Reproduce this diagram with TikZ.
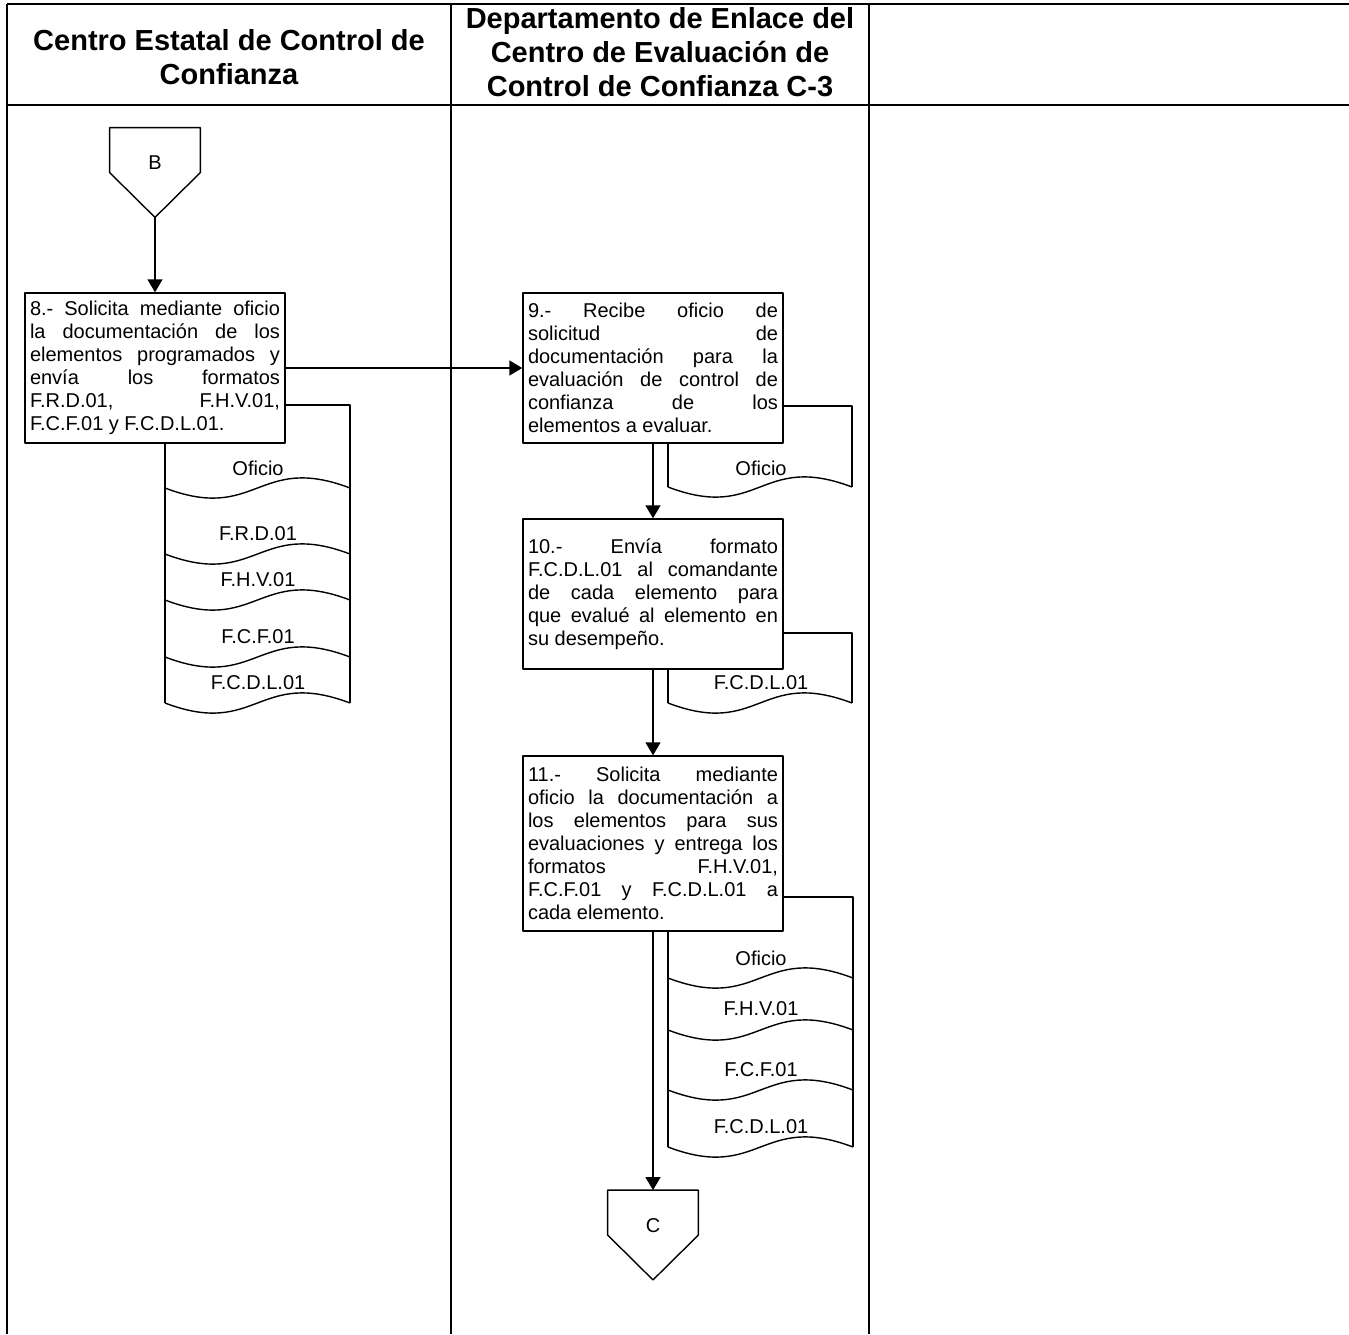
\documentclass[tikz,border=0pt]{standalone}
\usepackage{fontspec}
\setmainfont{Liberation Sans}
\usetikzlibrary{arrows.meta}
\newcommand{\onda}[3]{\draw[doc] (#1,#3) .. controls +(92,35) and +(-92,-35) .. (#2,#3);}
\begin{document}
\begin{tikzpicture}[x=0.5pt,y=-0.5pt,line join=round,>={Triangle[length=6.5pt,width=7.5pt]},
  font=\fontsize{10}{11.5}\selectfont\frenchspacing,
  marco/.style={line width=1.3pt},
  doc/.style={line width=0.7pt},
  paso/.style={draw,line width=0.7pt,text width=125pt,minimum width=130pt,minimum height=75pt,inner sep=2.5pt,align=justify},
  conector/.style={minimum width=45pt,minimum height=44.5pt,inner sep=0pt,text height=7.2pt,text depth=10pt},
  cabecera/.style={font=\bfseries\fontsize{14.5}{17}\selectfont,align=center}]
\useasboundingbox (0,0) rectangle (1349,1334);
% tabla
\draw[marco] (7,4) -- (1349,4);
\draw[marco] (7,105) -- (1349,105);
\draw[marco] (7,4) -- (7,1334);
\draw[marco] (451,4) -- (451,1334);
\draw[marco] (869,4) -- (869,1334);
\node[cabecera] (cab1) at (229,57) {Centro Estatal de Control de\\Confianza};
\node[cabecera] (cab2) at (660,52) {Departamento de Enlace del\\Centro de Evaluación de\\Control de Confianza C-3};
% conector B
\node[conector] (conB) at (155,172.5) {B};
\draw[doc] (conB.north west) -- (conB.north east) -- (conB.east) -- (conB.south) -- (conB.west) -- cycle;
% pasos
\node[paso] (s8) at (155,368) {8.- Solicita mediante oficio\linebreak la documentación de los\linebreak elementos programados y\linebreak envía los formatos\linebreak F.R.D.01, F.H.V.01,\linebreak F.C.F.01 y F.C.D.L.01.};
\node[paso] (s9) at (653,368) {9.- Recibe oficio de\linebreak solicitud de\linebreak documentación para la\linebreak evaluación de control de\linebreak confianza de los\linebreak elementos a evaluar.};
\node[paso] (s10) at (653,594) {10.- Envía formato\linebreak F.C.D.L.01 al comandante\linebreak de cada elemento para\linebreak que evalué al elemento en\linebreak su desempeño.};
\node[paso,minimum height=87.5pt] (s11) at (653,843.5) {11.- Solicita mediante\linebreak oficio la documentación a\linebreak los elementos para sus\linebreak evaluaciones y entrega los\linebreak formatos F.H.V.01,\linebreak F.C.F.01 y F.C.D.L.01 a\linebreak cada elemento.};
% conector C
\node[conector] (conC) at (653,1235) {C};
\draw[doc] (conC.north west) -- (conC.north east) -- (conC.east) -- (conC.south) -- (conC.west) -- cycle;
% documentos del paso 8
\draw[doc] (285,405) -- (350,405) -- (350,703);
\draw[doc] (165,443) -- (165,703);
\onda{165}{350}{488}
\onda{165}{350}{554}
\onda{165}{350}{600}
\onda{165}{350}{657}
\onda{165}{350}{703}
\node (d8a) at (258,468) {Oficio};
\node (d8b) at (258,534) {F.R.D.01};
\node (d8c) at (258,580) {F.H.V.01};
\node (d8d) at (258,637) {F.C.F.01};
\node (d8e) at (258,683) {F.C.D.L.01};
% documento del paso 9
\draw[doc] (783,406) -- (852,406) -- (852,487);
\draw[doc] (668,443) -- (668,487);
\onda{668}{852}{487}
\node (d9a) at (761,468) {Oficio};
% documento del paso 10
\draw[doc] (783,633) -- (852,633) -- (852,703);
\draw[doc] (668,669) -- (668,703);
\onda{668}{852}{703}
\node (d10a) at (761,683) {F.C.D.L.01};
% documentos del paso 11
\draw[doc] (783,897) -- (853,897) -- (853,1147);
\draw[doc] (668,931) -- (668,1147);
\onda{668}{853}{978}
\onda{668}{853}{1030}
\onda{668}{853}{1090}
\onda{668}{853}{1147}
\node (d11a) at (761,958) {Oficio};
\node (d11b) at (761,1009) {F.H.V.01};
\node (d11c) at (761,1070) {F.C.F.01};
\node (d11d) at (761,1127) {F.C.D.L.01};
% flechas
\draw[->,doc] (conB.south) -- (s8.north);
\draw[->,doc] (s8.east) -- (s9.west);
\draw[->,doc] (s9.south) -- (s10.north);
\draw[->,doc] (s10.south) -- (s11.north);
\draw[->,doc] (s11.south) -- (conC.north);
\end{tikzpicture}
\end{document}
